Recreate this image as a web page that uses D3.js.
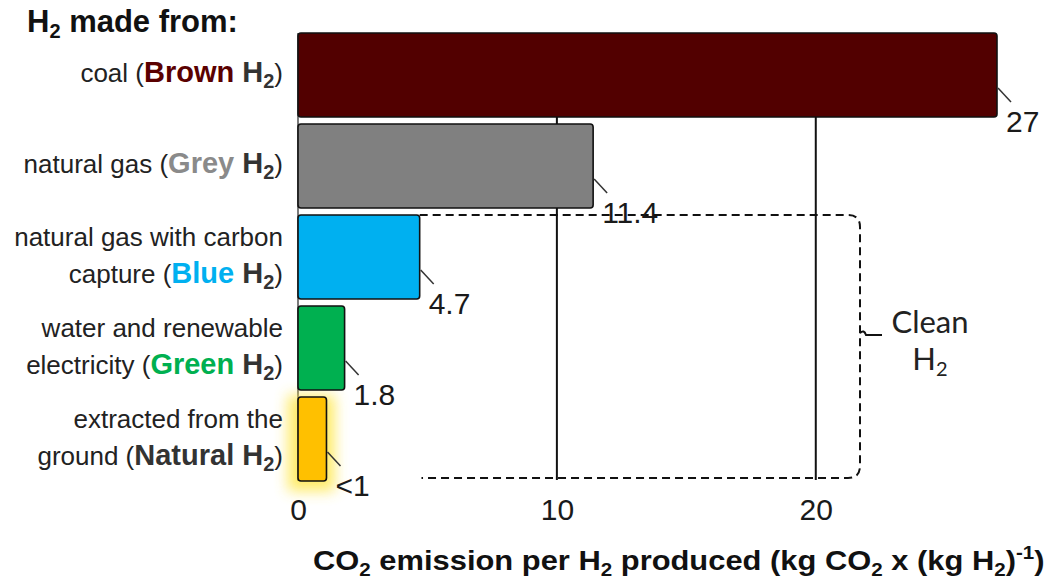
<!DOCTYPE html>
<html><head><meta charset="utf-8">
<script src="https://cdn.jsdelivr.net/npm/d3@7"></script>
<style>
html,body{margin:0;padding:0;background:#fff;}
svg{display:block;font-family:"Liberation Sans",Arial,sans-serif;}
</style></head>
<body><svg id="chart" width="1050" height="582"></svg>
<script>
const categories = ["coal", "natural gas", "natural gas with carbon capture", "water and renewable electricity", "extracted from the ground"];
const labelLines = [["coal ("], ["natural gas ("], ["natural gas with carbon", "capture ("], ["water and renewable", "electricity ("], ["extracted from the", "ground ("]];
const colorNames = ["Brown", "Grey", "Blue", "Green", "Natural"];
const values = [27, 11.4, 4.7, 1.8, 1.1];
const valueLabels = ["27", "11.4", "4.7", "1.8", "<1"];
const barColors = ["#520000", "#808080", "#00B0F0", "#00B050", "#FFC000"];
const nameColors = ["#5a0000", "#8a8a8a", "#00B0F0", "#00B050", "#333333"];
const tickValues = [0, 10, 20];
const gridValues = [10, 20];
const cleanGroup = ["natural gas with carbon capture", "water and renewable electricity", "extracted from the ground"];

const svg = d3.select("#chart");
const x = d3.scaleLinear().domain([0, 27]).range([298, 997]);
const y = d3.scaleBand().domain(categories).range([29.5, 484.5]).paddingInner(0.077).paddingOuter(0.0385);

const defs = svg.append("defs");
const f = defs.append("filter").attr("id", "glow").attr("x", "-100%").attr("y", "-50%").attr("width", "300%").attr("height", "200%");
f.append("feGaussianBlur").attr("stdDeviation", 7);

// gridlines
svg.append("g").selectAll("line").data(gridValues).join("line")
  .attr("x1", d => x(d)).attr("x2", d => x(d))
  .attr("y1", y(categories[0]) + 2).attr("y2", 480)
  .attr("stroke", "#111").attr("stroke-width", 2);
// left axis line
svg.append("line").attr("x1", x(0)).attr("x2", x(0)).attr("y1", y(categories[0])).attr("y2", 481)
  .attr("stroke", "#222").attr("stroke-width", 1.2);

// glow for natural
const nat = categories[4];
svg.append("rect").attr("x", x(0) - 10).attr("y", y(nat) - 2)
  .attr("width", x(values[4]) - x(0) + 18).attr("height", y.bandwidth() + 12)
  .attr("fill", "#ffe640").attr("opacity", 0.8).attr("filter", "url(#glow)");

// bracket
const bt = y(cleanGroup[0]);
const bb = 478, bx = 860, bl = x(values[2]);
const my = 335;
svg.append("path")
  .attr("d", `M${bl},${bt} H${bx - 12} Q${bx},${bt} ${bx},${bt + 12} V${bb - 12} Q${bx},${bb} ${bx - 12},${bb} H${x(values[4]) + 95}`)
  .attr("fill", "none").attr("stroke", "#111").attr("stroke-width", 2).attr("stroke-dasharray", "8,5");
svg.append("path")
  .attr("d", `M${bx},${my - 2} Q${bx + 4},${my - 6} ${bx + 6},${my} L${bx + 22},${my}`)
  .attr("fill", "none").attr("stroke", "#111").attr("stroke-width", 2);

// bars
svg.append("g").selectAll("rect").data(categories).join("rect")
  .attr("x", x(0)).attr("y", d => y(d))
  .attr("width", (d, i) => x(values[i]) - x(0)).attr("height", y.bandwidth())
  .attr("rx", 3).attr("fill", (d, i) => barColors[i])
  .attr("stroke", "#111").attr("stroke-width", 1.6);

// leader lines and values
categories.forEach((c, i) => {
  const xe = x(values[i]) + 1, bot = y(c) + y.bandwidth();
  svg.append("line").attr("x1", xe).attr("y1", bot - 29).attr("x2", xe + 13).attr("y2", bot - 15)
    .attr("stroke", "#333").attr("stroke-width", 1.5);
  svg.append("text").attr("x", xe + 8).attr("y", bot + 15)
    .attr("font-size", 30).attr("fill", "#1a1a1a").text(valueLabels[i]);
});

// category labels
categories.forEach((c, i) => {
  const lines = labelLines[i];
  const cy = y(c) + y.bandwidth() / 2 + 7;
  const start = cy - (lines.length - 1) * 18.5;
  lines.forEach((ln, j) => {
    const t = svg.append("text").attr("x", 283).attr("y", start + j * 37)
      .attr("text-anchor", "end").attr("font-size", 26).attr("fill", "#222");
    t.append("tspan").text(ln);
    if (j === lines.length - 1) {
      t.append("tspan").attr("font-weight", "bold").attr("font-size", 29).attr("fill", nameColors[i]).text(colorNames[i]);
      t.append("tspan").attr("font-weight", "bold").attr("font-size", 29).attr("fill", "#333").text(" H");
      t.append("tspan").attr("font-weight", "bold").attr("font-size", 20).attr("fill", "#333").attr("dy", 6).text("2");
      t.append("tspan").attr("dy", -6).text(")");
    }
  });
});

// title
const tt = svg.append("text").attr("x", 27).attr("y", 32).attr("font-size", 31).attr("font-weight", "bold").attr("fill", "#111");
tt.append("tspan").text("H");
tt.append("tspan").attr("font-size", 20).attr("dy", 6).text("2");
tt.append("tspan").attr("dy", -6).text(" made from:");

// x axis ticks
const axis = d3.axisBottom(x).tickValues(tickValues).tickSize(0).tickFormat(d3.format("d"));
const ag = svg.append("g").attr("transform", "translate(0,496)").call(axis);
ag.select(".domain").remove();
ag.selectAll("text").attr("font-size", 30).attr("fill", "#1a1a1a").attr("font-family", "'Liberation Sans',Arial,sans-serif").attr("dy", "0.71em");

// axis title
const at = svg.append("text").attr("x", 313).attr("y", 570).attr("font-size", 27).attr("font-weight", "bold").attr("fill", "#111");
const parts = [["CO", 0], ["2", 1], [" emission per H", 0], ["2", 1], [" produced (kg CO", 0], ["2", 1], [" x (kg H", 0], ["2", 1], [")", 0], ["-1", 2], [")", 0]];
let prev = 0;
parts.forEach(p => {
  const off = p[1] === 1 ? 6 : p[1] === 2 ? -11 : 0;
  at.append("tspan").attr("dy", off - prev).attr("font-size", p[1] ? 18 : 27).text(p[0]);
  prev = off;
});
const w = at.node().getComputedTextLength();
at.attr("transform", `translate(313,0) scale(${732 / w},1) translate(-313,0)`);

// Clean H2
const cl = svg.append("g").attr("font-family", "Lato,'Open Sans',sans-serif").attr("fill", "#222");
cl.append("text").attr("x", 930).attr("y", 333).attr("text-anchor", "middle").attr("font-size", 31).text("Clean");
const h2 = cl.append("text").attr("x", 930).attr("y", 370).attr("text-anchor", "middle").attr("font-size", 31);
h2.append("tspan").text("H");
h2.append("tspan").attr("font-size", 20).attr("dy", 6).text("2");
</script></body></html>
